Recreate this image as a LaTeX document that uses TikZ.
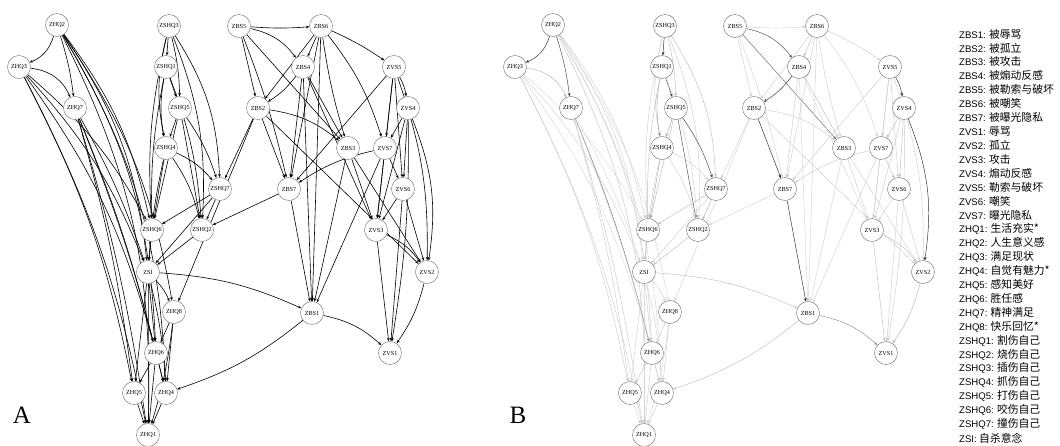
\documentclass[tikz,border=0pt]{standalone}
\usepackage{fontspec}
\setmainfont{Liberation Serif}
\newfontfamily\legendsans{Liberation Sans}
\newfontfamily\cjk{Noto Sans CJK SC}
\usetikzlibrary{arrows.meta, backgrounds}

\tikzset{
  var/.style={circle, draw=black!55, line width=0.45pt, fill=white, minimum size=23pt, inner sep=0pt, font=\fontsize{6.2}{7}\selectfont},
  edgeA/.style={draw=black, line width=0.6pt, -{Stealth[length=3.4pt, width=2.8pt]}},
  edgeB/.style={line width=0.45pt, -{Stealth[length=3.4pt, width=2.8pt]}},
  legend/.style={anchor=west, inner sep=0pt, font=\fontsize{9.6}{11}\selectfont},
  panel/.style={font=\fontsize{25}{25}\selectfont}
}

% node name / x / y (panel A, pixels from top left)
\newcommand{\netnodes}{ZHQ2/57/25, ZHQ3/19/67, ZHQ7/75/108,
  ZSHQ3/169/26, ZSHQ1/166/67, ZSHQ5/180/108, ZSHQ4/166/148, ZSHQ7/220/189,
  ZSHQ6/152/230, ZSHQ2/202/230, ZSI/148/272, ZHQ8/174/312, ZHQ6/156/353,
  ZHQ5/134/393, ZHQ4/166/393, ZHQ1/148/435,
  ZBS5/239/26, ZBS6/321/26, ZBS4/303/67, ZVS5/394/67, ZBS2/258/108, ZVS4/408/108,
  ZBS3/348/148, ZVS7/385/148, ZBS7/289/189, ZVS6/403/189, ZVS3/376/230,
  ZVS2/427/272, ZBS1/312/313, ZVS1/390/353}

% from / to / bend / grey level in panel B
\newcommand{\netedges}{ZHQ2/ZHQ3/25/85, ZHQ2/ZHQ7/5/75, ZHQ2/ZSHQ6/12/20, ZHQ2/ZSI/14/18,
  ZHQ2/ZHQ8/12/15, ZHQ2/ZHQ6/14/20, ZHQ2/ZHQ4/14/18, ZHQ2/ZHQ1/14/22,
  ZHQ3/ZHQ7/30/30, ZHQ3/ZSHQ6/10/15, ZHQ3/ZSI/10/18, ZHQ3/ZHQ6/10/15, ZHQ3/ZHQ5/8/20, ZHQ3/ZHQ1/8/20,
  ZHQ7/ZSI/5/15, ZHQ7/ZHQ6/4/60, ZHQ7/ZHQ5/4/20, ZHQ7/ZHQ4/4/20, ZHQ7/ZHQ1/4/22,
  ZSHQ3/ZSHQ1/0/85, ZSHQ3/ZSHQ5/6/25, ZSHQ3/ZSHQ4/-12/20, ZSHQ3/ZSHQ7/15/25, ZSHQ3/ZSHQ2/12/20, ZSHQ3/ZSHQ6/-8/20,
  ZSHQ1/ZSHQ5/0/80, ZSHQ1/ZSHQ4/-10/40, ZSHQ1/ZSHQ6/-6/25, ZSHQ1/ZSHQ2/8/20,
  ZSHQ5/ZSHQ4/0/35, ZSHQ5/ZSHQ7/8/75, ZSHQ5/ZSHQ2/0/70, ZSHQ5/ZSHQ6/0/30,
  ZSHQ4/ZSHQ7/12/20, ZSHQ4/ZSHQ6/0/35, ZSHQ4/ZSHQ2/10/20, ZSHQ4/ZSI/-4/20,
  ZSHQ7/ZSHQ6/0/25, ZSHQ7/ZSHQ2/0/30, ZSHQ7/ZSI/0/20, ZSHQ6/ZSI/0/25, ZSHQ2/ZSI/0/25,
  ZSI/ZHQ8/10/20, ZSI/ZHQ6/0/20, ZSI/ZHQ5/0/18, ZSI/ZHQ4/5/18, ZSI/ZHQ1/0/20, ZSI/ZBS1/10/25,
  ZHQ8/ZHQ6/0/20, ZHQ8/ZHQ4/0/20, ZHQ8/ZHQ1/5/18,
  ZHQ6/ZHQ5/0/25, ZHQ6/ZHQ4/0/20, ZHQ6/ZHQ1/0/20, ZHQ5/ZHQ1/0/20, ZHQ4/ZHQ1/0/20,
  ZBS1/ZHQ4/10/25, ZBS1/ZVS1/15/45,
  ZBS5/ZBS6/-4/20, ZBS5/ZBS4/20/70, ZBS5/ZBS2/0/20, ZBS5/ZBS7/4/18, ZBS5/ZBS3/0/60,
  ZBS6/ZBS4/0/25, ZBS6/ZBS2/0/20, ZBS6/ZBS7/0/20, ZBS6/ZBS3/-4/20, ZBS6/ZVS5/5/20, ZBS6/ZVS7/10/18, ZBS6/ZBS1/0/18,
  ZBS4/ZBS2/10/80, ZBS4/ZBS7/0/20, ZBS4/ZBS3/0/25, ZBS4/ZBS1/0/18, ZBS4/ZVS3/0/15,
  ZBS2/ZBS7/0/85, ZBS2/ZBS3/15/20, ZBS2/ZVS2/0/20, ZBS2/ZSHQ7/0/18, ZBS2/ZHQ8/0/18,
  ZBS3/ZVS3/0/20, ZBS3/ZVS2/0/18, ZBS3/ZBS1/0/18, ZBS7/ZBS1/0/85, ZBS7/ZSHQ2/0/18,
  ZVS5/ZBS7/0/20, ZVS5/ZVS4/10/80, ZVS5/ZVS7/0/25, ZVS5/ZVS6/0/20, ZVS5/ZVS3/0/18, ZVS5/ZVS2/10/20,
  ZVS4/ZVS7/0/25, ZVS4/ZVS6/0/25, ZVS4/ZVS3/0/20, ZVS4/ZVS2/15/85, ZVS4/ZVS1/5/20,
  ZVS7/ZBS7/-10/20, ZVS7/ZVS6/0/25, ZVS7/ZVS3/0/20, ZVS7/ZBS1/0/18,
  ZVS6/ZVS3/0/20, ZVS6/ZVS2/0/20, ZVS6/ZVS1/0/20,
  ZVS3/ZVS2/15/25, ZVS3/ZVS1/0/25, ZVS2/ZVS1/10/30}

\begin{document}
\begin{tikzpicture}[x=1pt, y=-1pt, >=Stealth]
  \useasboundingbox (0,0) rectangle (1060,446);
  % the two networks
  \foreach \p/\dx in {A/0, B/496}
    \foreach \n/\x/\y in \netnodes
      \node[var] (\p\n) at (\x+\dx,\y) {\n};
  % edges go behind the nodes
  \begin{pgfonlayer}{background}
    \foreach \s/\t/\b/\w in \netedges {
      \draw[edgeA] (A\s) to[bend left=\b] (A\t);
      \draw[edgeB, draw=black!\w] (B\s) to[bend left=\b] (B\t);
    }
  \end{pgfonlayer}
  % panel letters
  \node[panel] (labA) at (22,415) {A};
  \node[panel] (labB) at (518,415) {B};
  % legend
  \foreach \code/\zh [count=\k from 0] in {ZBS1/被辱骂, ZBS2/被孤立, ZBS3/被攻击,
      ZBS4/被煽动反感, ZBS5/被勒索与破坏, ZBS6/被嘲笑, ZBS7/被曝光隐私,
      ZVS1/辱骂, ZVS2/孤立, ZVS3/攻击, ZVS4/煽动反感, ZVS5/勒索与破坏, ZVS6/嘲笑, ZVS7/曝光隐私,
      ZHQ1/生活充实*, ZHQ2/人生意义感, ZHQ3/满足现状, ZHQ4/自觉有魅力*, ZHQ5/感知美好,
      ZHQ6/胜任感, ZHQ7/精神满足, ZHQ8/快乐回忆*,
      ZSHQ1/割伤自己, ZSHQ2/烧伤自己, ZSHQ3/插伤自己, ZSHQ4/抓伤自己, ZSHQ5/打伤自己,
      ZSHQ6/咬伤自己, ZSHQ7/撞伤自己, ZSI/自杀意念}
    \node[legend] (lg\k) at (959,{34+13.93*\k}) {{\legendsans\code:} {\cjk\fontsize{10.8}{12}\selectfont\zh}};
\end{tikzpicture}
\end{document}
